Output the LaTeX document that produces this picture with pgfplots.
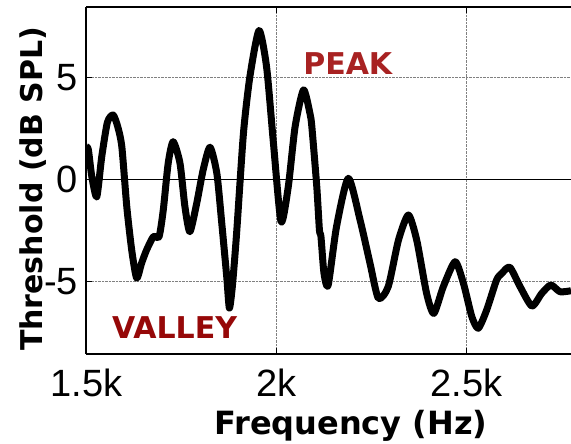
\documentclass[border=0pt]{standalone}
\usepackage{fontspec}
\setmainfont{Liberation Sans}
\newfontfamily\dejavu{DejaVu Sans}
\usepackage{pgfplots}
\pgfplotsset{compat=1.18}
\definecolor{peakc}{RGB}{168,34,34}
\definecolor{valc}{RGB}{150,8,8}
\begin{document}
\begin{tikzpicture}
\begin{axis}[
  scale only axis, width=484.5pt, height=347pt,
  xmin=1500, xmax=2775, ymin=-8.55, ymax=8.45,
  axis x line*=box, axis y line*=left,
  xtick={1500,2000,2500}, xticklabels={1.5k,2k,2.5k},
  ytick={-5,5}, extra y ticks={0},
  tick align=inside, major tick length=6pt,
  tick style={black, line width=1.5pt},
  axis line style={line width=2pt},
  grid=major, major grid style={densely dotted, gray, line width=1pt},
  extra y tick style={major grid style={solid, black, line width=1.5pt}},
  /pgf/number format/assume math mode=true,
  ticklabel style={font=\fontsize{38}{38}\selectfont},
  xticklabel style={anchor=base, inner sep=0pt, yshift=-43pt},
  yticklabel style={anchor=east, inner sep=0pt, xshift=-8.5pt},
  xlabel={Frequency (Hz)}, ylabel={Threshold (dB SPL)},
  xlabel style={font=\dejavu\bfseries\fontsize{32}{32}\selectfont, at={(axis description cs:0.546,-0.2334)}, anchor=base, inner sep=0pt},
  ylabel style={font=\dejavu\bfseries\fontsize{30}{30}\selectfont, at={(axis description cs:-0.0898,0.4755)}, anchor=base, inner sep=0pt},
]
\addplot[black, line width=7pt, line join=round, smooth, tension=0.4] coordinates {
(1500,1.6) (1505,1.45) (1514,0.14) (1527,-0.85) (1540,1.1) (1555,2.8) (1570,3.16) (1582,2.6) (1593,1.6)
(1606,-1.33) (1619,-3.46) (1632,-4.83) (1645,-4.1) (1658,-3.46) (1676,-2.8) (1691,-2.8)
(1702,-1.5) (1715,0.8) (1728,1.85) (1746,0.8) (1759,-1.33) (1772,-2.56) (1790,-1.17)
(1807,0.47) (1825,1.58) (1843,0.3) (1856,-2.15) (1869,-4.76) (1876,-6.3) (1884,-5.2)
(1895,-2.64) (1913,2.26) (1930,5.04) (1954,7.3) (1974,5.5) (1992,1.77) (2012,-2.07)
(2031,-0.35) (2049,2.59) (2071,4.39) (2088,3.24) (2093,2.59) (2106,-0.35) (2113,-2.48)
(2117,-2.8) (2125,-4.6) (2136,-5.17) (2158,-2.31) (2189,0.06) (2220,-1.99) (2246,-4.1)
(2268,-5.82) (2294,-5.25) (2321,-2.97) (2347,-1.74) (2369,-2.97) (2395,-5.58) (2414,-6.56)
(2439,-5.25) (2470,-4.03) (2492,-5.09) (2514,-6.72) (2531,-7.29) (2553,-6.4) (2579,-4.93)
(2593,-4.6) (2614,-4.3) (2641,-5.25) (2672,-6.2) (2698,-5.58) (2722,-5.17) (2746,-5.5) (2775,-5.45)
};
\node[anchor=base west, inner sep=0pt, text=peakc, font=\dejavu\bfseries\fontsize{30}{30}\selectfont] at (axis cs:2070,5.15) {PEAK};
\node[anchor=base west, inner sep=0pt, text=valc, font=\dejavu\bfseries\fontsize{30}{30}\selectfont] at (axis cs:1567,-7.8) {VALLEY};
\end{axis}
\pgfresetboundingbox
\useasboundingbox (-86.5pt,-90pt) rectangle (484.5pt,354pt);
\end{tikzpicture}
\end{document}
